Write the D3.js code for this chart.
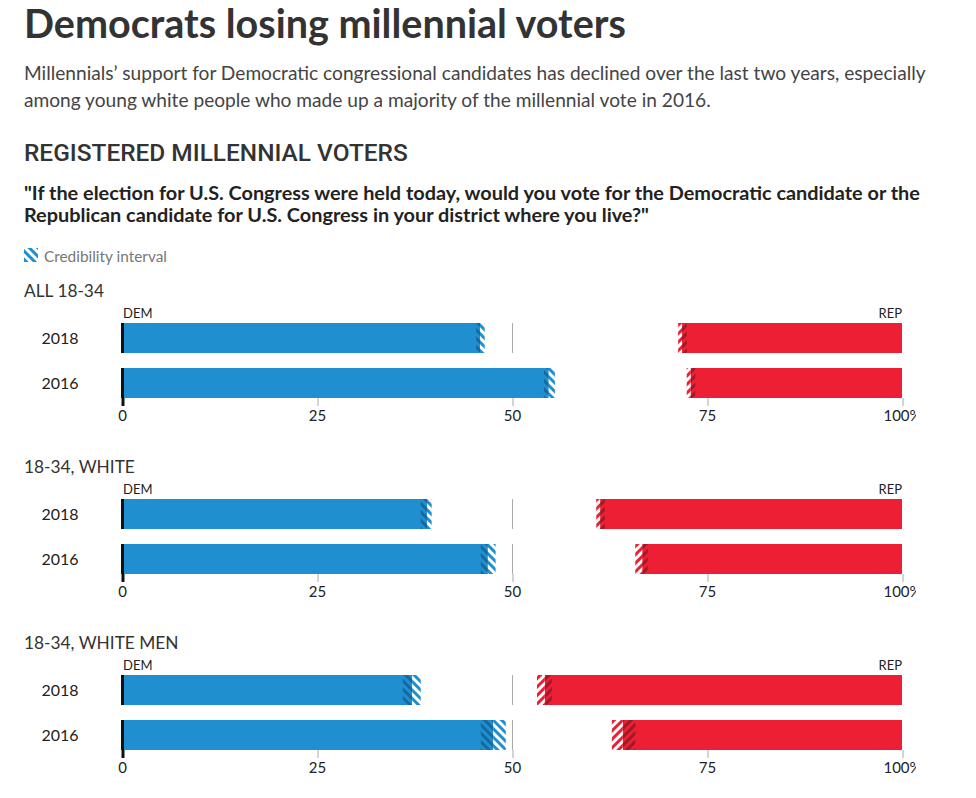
<!DOCTYPE html>
<html>
<head>
<meta charset="utf-8">
<script src="https://cdn.jsdelivr.net/npm/d3@7"></script>
<style>
  html, body { margin: 0; padding: 0; background: #fff; }
  svg { display: block; }
</style>
</head>
<body>
<svg id="chart" width="976" height="798"></svg>
<script>
// ---------------- DATA ----------------
const categories = ["ALL 18-34", "18-34, WHITE", "18-34, WHITE MEN"];
const years = ["2018", "2016"];
// Democratic share (point estimate and credibility interval), per category, per year
const demEst  = [[45.9, 54.7], [39.1, 46.9], [37.2, 47.6]];
const demLow  = [[45.4, 54.1], [38.3, 46.0], [36.0, 46.0]];
const demHigh = [[46.5, 55.5], [39.7, 47.9], [38.3, 49.2]];
// Republican share (measured from the right end)
const repEst  = [[28.2, 27.1], [38.7, 33.3], [45.8, 35.8]];
const repLow  = [[27.6, 26.5], [38.1, 32.6], [44.9, 34.2]];
const repHigh = [[28.7, 27.6], [39.2, 34.2], [46.8, 37.2]];
const tickValues = [0, 25, 50, 75, 100];
const tickLabels = ["0", "25", "50", "75", "100%"];

const titleText = "Democrats losing millennial voters";
const subtitleLines = [
  "Millennials’ support for Democratic congressional candidates has declined over the last two years, especially",
  "among young white people who made up a majority of the millennial vote in 2016."
];
const sectionText = "REGISTERED MILLENNIAL VOTERS";
const questionLines = [
  "\"If the election for U.S. Congress were held today, would you vote for the Democratic candidate or the",
  "Republican candidate for U.S. Congress in your district where you live?\""
];
const legendText = "Credibility interval";

// ---------------- STYLE ----------------
const BLUE = "#1f8fd0", BLUE_DARK = "#16689e";
const RED = "#ec1f34", RED_DARK = "#9e1a27";
const FONT = "Lato, 'Noto Sans', sans-serif";

const svg = d3.select("#chart");

function fit(sel, target) {
  const cur = sel.node().getComputedTextLength();
  const fs = parseFloat(sel.attr("font-size"));
  const nfs = fs * target / cur;
  sel.attr("font-size", nfs);
  return nfs;
}

// patterns
const defs = svg.append("defs");
function stripePattern(id, bg, fg, angle) {
  const p = defs.append("pattern").attr("id", id)
    .attr("patternUnits", "userSpaceOnUse").attr("width", 6).attr("height", 6)
    .attr("patternTransform", `rotate(${angle})`);
  if (bg) p.append("rect").attr("width", 6).attr("height", 6).attr("fill", bg);
  p.append("rect").attr("x", 0).attr("width", 3).attr("height", 6).attr("fill", fg);
}
stripePattern("blueLight", "#fff", BLUE, -45);
stripePattern("blueDark", BLUE, BLUE_DARK, -45);
stripePattern("redLight", "#fff", RED, 45);
stripePattern("redDark", RED, RED_DARK, 45);

// ---------------- HEADER ----------------
const title = svg.append("text").attr("x", 24).attr("y", 38)
  .attr("font-family", "Lato, sans-serif").attr("font-weight", 700)
  .attr("font-size", 37).attr("fill", "#333").text(titleText);
fit(title, 602);

const sub1 = svg.append("text").attr("x", 24).attr("y", 80)
  .attr("font-family", FONT).attr("font-size", 18).attr("fill", "#444").text(subtitleLines[0]);
const subFs = fit(sub1, 902);
svg.append("text").attr("x", 24).attr("y", 107)
  .attr("font-family", FONT).attr("font-size", subFs).attr("fill", "#444").text(subtitleLines[1]);

const sec = svg.append("text").attr("x", 24).attr("y", 161)
  .attr("font-family", "Roboto, sans-serif").attr("font-weight", 500)
  .attr("font-size", 22).attr("fill", "#333").text(sectionText);
fit(sec, 384);

const q1 = svg.append("text").attr("x", 24).attr("y", 200)
  .attr("font-family", FONT).attr("font-weight", 700)
  .attr("font-size", 18).attr("fill", "#222").text(questionLines[0]);
const qFs = fit(q1, 896);
svg.append("text").attr("x", 24).attr("y", 222)
  .attr("font-family", FONT).attr("font-weight", 700)
  .attr("font-size", qFs).attr("fill", "#222").text(questionLines[1]);

// legend
svg.append("rect").attr("x", 24).attr("y", 248).attr("width", 14).attr("height", 14)
  .attr("fill", "url(#blueLight)");
const lt = svg.append("text").attr("x", 44).attr("y", 262)
  .attr("font-family", FONT).attr("font-size", 14).attr("fill", "#777").text(legendText);
fit(lt, 123);

// ---------------- PANELS ----------------
// inner svg clips the right edge like the original ("100%" is cut)
const root = svg.append("svg").attr("x", 0).attr("y", 0).attr("width", 916).attr("height", 798);
const x = d3.scaleLinear().domain([0, 100]).range([122, 902]);
const barH = 30, rowStep = 45, panelStep = 176, firstBarTop = 323;

let panelFs = null;
categories.forEach((cat, i) => {
  const top = firstBarTop + i * panelStep;
  const g = root.append("g");

  const pt = g.append("text").attr("x", 24).attr("y", top - 26)
    .attr("font-family", FONT).attr("font-size", 17).attr("fill", "#333").text(cat);
  if (panelFs === null) panelFs = fit(pt, 80); else pt.attr("font-size", panelFs);

  g.append("text").attr("x", 123).attr("y", top - 5)
    .attr("font-family", FONT).attr("font-size", 13).attr("fill", "#222").text("DEM");
  g.append("text").attr("x", 902).attr("y", top - 5).attr("text-anchor", "end")
    .attr("font-family", FONT).attr("font-size", 13).attr("fill", "#222").text("REP");

  const y = d3.scaleBand().domain(years).range([top, top + rowStep * years.length]).paddingInner(0);

  years.forEach((yr, j) => {
    const y0 = y(yr);
    // year label
    g.append("text").attr("x", 60).attr("y", y0 + barH / 2 + 6).attr("text-anchor", "middle")
      .attr("font-family", FONT).attr("font-size", 16).attr("fill", "#222").text(yr);
    // midline at 50
    g.append("line").attr("x1", x(50) + 0.5).attr("x2", x(50) + 0.5)
      .attr("y1", y0).attr("y2", y0 + barH).attr("stroke", "#aaa").attr("stroke-width", 1);

    // DEM bar
    g.append("rect").attr("x", x(0)).attr("y", y0).attr("width", x(demEst[i][j]) - x(0))
      .attr("height", barH).attr("fill", BLUE);
    g.append("rect").attr("x", x(demLow[i][j])).attr("y", y0)
      .attr("width", x(demEst[i][j]) - x(demLow[i][j])).attr("height", barH).attr("fill", "url(#blueDark)");
    g.append("rect").attr("x", x(demEst[i][j])).attr("y", y0)
      .attr("width", x(demHigh[i][j]) - x(demEst[i][j])).attr("height", barH).attr("fill", "url(#blueLight)");

    // REP bar (from the right)
    g.append("rect").attr("x", x(100 - repEst[i][j])).attr("y", y0)
      .attr("width", x(100) - x(100 - repEst[i][j])).attr("height", barH).attr("fill", RED);
    g.append("rect").attr("x", x(100 - repEst[i][j])).attr("y", y0)
      .attr("width", x(100 - repLow[i][j]) - x(100 - repEst[i][j])).attr("height", barH).attr("fill", "url(#redDark)");
    g.append("rect").attr("x", x(100 - repHigh[i][j])).attr("y", y0)
      .attr("width", x(100 - repEst[i][j]) - x(100 - repHigh[i][j])).attr("height", barH).attr("fill", "url(#redLight)");

    // zero baseline
    g.append("line").attr("x1", x(0) + 0.5).attr("x2", x(0) + 0.5)
      .attr("y1", y0).attr("y2", y0 + barH).attr("stroke", "#111").attr("stroke-width", 3);
  });

  // axis
  const axisY = top + rowStep + barH;
  const ax = g.append("g").attr("transform", `translate(0,${axisY})`)
    .call(d3.axisBottom(x).tickValues(tickValues).tickFormat((d, k) => tickLabels[k]).tickSize(8).tickPadding(4));
  ax.select(".domain").remove();
  ax.selectAll(".tick line").attr("stroke", (d) => d === 0 ? "#111" : "#aaa")
    .attr("stroke-width", (d) => d === 0 ? 3 : 1)
    .attr("transform", "translate(0.5,0)");
  ax.selectAll(".tick text").attr("font-family", FONT).attr("font-size", 15).attr("fill", "#222");
});
</script>
</body>
</html>
